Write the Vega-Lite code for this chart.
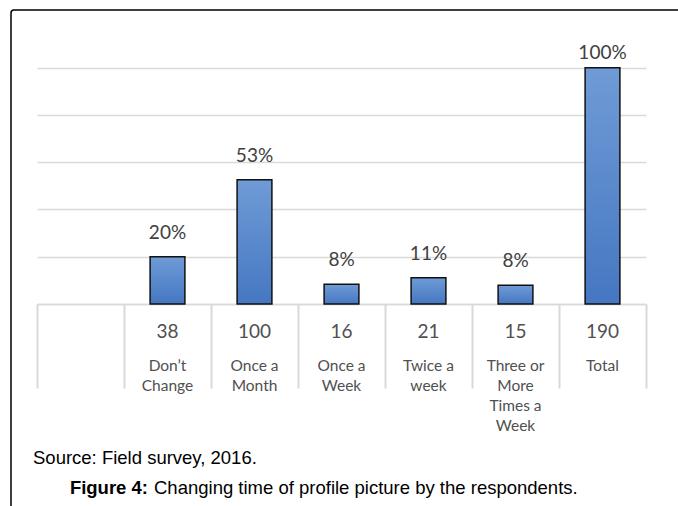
{
  "$schema": "https://vega.github.io/schema/vega-lite/v6.json",
  "autosize": "none",
  "width": 680,
  "height": 510,
  "padding": {"left": 11, "top": 10, "right": -13, "bottom": -14},
  "background": "#ffffff",
  "view": {"stroke": "#000000", "strokeWidth": 1.5, "cornerRadius": 3, "fill": "#ffffff"},
  "config": {
    "font": "Lato",
    "text": {"font": "Lato"}
  },
  "data": {
    "values": [
      {"cat": "Don’t Change", "label": "Don’t\nChange", "n": 38, "share": 0.2},
      {"cat": "Once a Month", "label": "Once a\nMonth", "n": 100, "share": 0.526},
      {"cat": "Once a Week", "label": "Once a\nWeek", "n": 16, "share": 0.084},
      {"cat": "Twice a week", "label": "Twice a\nweek", "n": 21, "share": 0.111},
      {"cat": "Three or More Times a Week", "label": "Three or\nMore\nTimes a\nWeek", "n": 15, "share": 0.079},
      {"cat": "Total", "label": "Total", "n": 190, "share": 1.0}
    ]
  },
  "encoding": {
    "x": {
      "field": "cat",
      "type": "nominal",
      "sort": null,
      "scale": {
        "domain": ["blank", "Don’t Change", "Once a Month", "Once a Week", "Twice a week", "Three or More Times a Week", "Total"],
        "range": [26, 635],
        "paddingInner": 0,
        "paddingOuter": 0
      },
      "axis": {
        "title": null,
        "labels": false,
        "grid": false,
        "ticks": true,
        "tickBand": "extent",
        "tickSize": 84,
        "tickColor": "#d9d9d9",
        "tickWidth": 2,
        "domainColor": "#d9d9d9",
        "domainWidth": 1.5,
        "offset": -216
      }
    }
  },
  "layer": [
    {
      "mark": {
        "type": "bar",
        "width": {"band": 0.4},
        "stroke": "#111111",
        "strokeWidth": 1.5,
        "fill": {
          "gradient": "linear",
          "x1": 0, "y1": 0, "x2": 0, "y2": 1,
          "stops": [
            {"offset": 0, "color": "#6f9bd6"},
            {"offset": 1, "color": "#4577c2"}
          ]
        }
      },
      "encoding": {
        "y": {
          "field": "share",
          "type": "quantitative",
          "scale": {"domain": [0, 1], "range": [294, 57.7], "nice": false, "zero": true},
          "axis": {
            "title": null,
            "labels": false,
            "ticks": false,
            "domain": false,
            "grid": true,
            "values": [0, 0.2, 0.4, 0.6, 0.8, 1],
            "gridColor": "#d9d9d9",
            "gridWidth": 1.5
          }
        }
      }
    },
    {
      "transform": [{"filter": "datum.share < 1"}],
      "mark": {"type": "text", "baseline": "alphabetic", "dy": -18, "fontSize": 19, "color": "#404040"},
      "encoding": {
        "y": {"field": "share", "type": "quantitative"},
        "text": {"field": "share", "type": "quantitative", "format": ".0%"}
      }
    },
    {
      "transform": [{"filter": "datum.share >= 1"}],
      "mark": {"type": "text", "baseline": "alphabetic", "dy": -8.4, "fontSize": 19, "color": "#404040"},
      "encoding": {
        "y": {"field": "share", "type": "quantitative"},
        "text": {"field": "share", "type": "quantitative", "format": ".0%"}
      }
    },
    {
      "mark": {"type": "text", "baseline": "alphabetic", "dy": 34, "fontSize": 19, "color": "#505050"},
      "encoding": {
        "y": {"datum": 0, "type": "quantitative"},
        "text": {"field": "n", "type": "quantitative"}
      }
    },
    {
      "mark": {"type": "text", "baseline": "alphabetic", "dy": 67, "fontSize": 15.5, "lineBreak": "\n", "lineHeight": 20, "color": "#505050"},
      "encoding": {
        "y": {"datum": 0, "type": "quantitative"},
        "text": {"field": "label", "type": "nominal"}
      }
    },
    {
      "data": {"values": [{}]},
      "mark": {"type": "text", "text": "Source: Field survey, 2016.", "font": "Liberation Sans", "fontSize": 18.5, "align": "left", "baseline": "alphabetic", "dx": -47.5, "dy": 160, "color": "#000000"},
      "encoding": {
        "x": {"datum": "blank"},
        "y": {"datum": 0, "type": "quantitative"}
      }
    },
    {
      "data": {"values": [{}]},
      "mark": {"type": "text", "text": "Figure 4:", "font": "Liberation Sans", "fontWeight": "bold", "fontSize": 18.5, "align": "right", "baseline": "alphabetic", "dx": 67.5, "dy": 190, "color": "#000000"},
      "encoding": {
        "x": {"datum": "blank"},
        "y": {"datum": 0, "type": "quantitative"}
      }
    },
    {
      "data": {"values": [{}]},
      "mark": {"type": "text", "text": "Changing time of profile picture by the respondents.", "font": "Liberation Sans", "fontSize": 18.5, "align": "left", "baseline": "alphabetic", "dx": 73.5, "dy": 190, "color": "#000000"},
      "encoding": {
        "x": {"datum": "blank"},
        "y": {"datum": 0, "type": "quantitative"}
      }
    }
  ]
}
